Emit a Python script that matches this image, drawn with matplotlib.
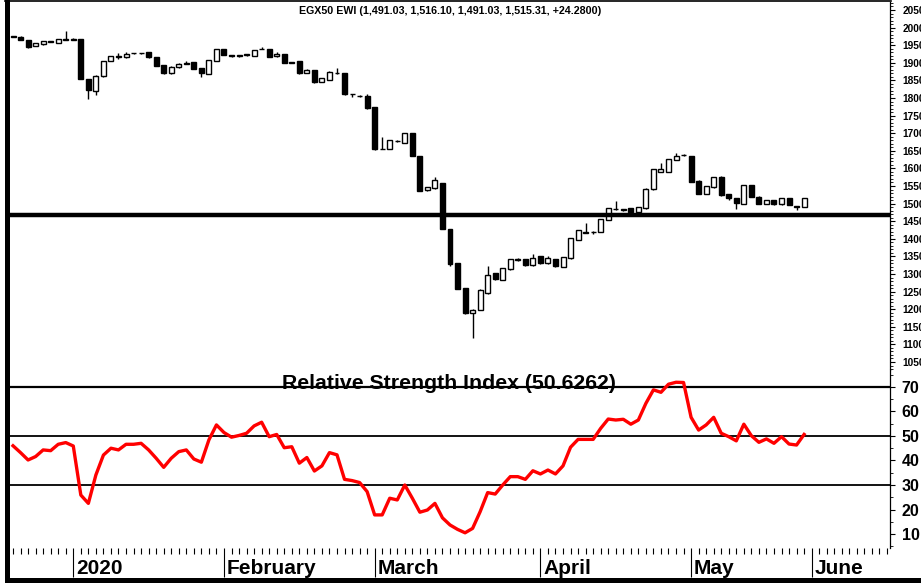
#!/usr/bin/env python3
import matplotlib
matplotlib.use("Agg")
import matplotlib.pyplot as plt
import matplotlib.transforms as mtransforms
from matplotlib.patches import Rectangle
from matplotlib.lines import Line2D
from matplotlib.ticker import MultipleLocator, FormatStrFormatter
import numpy as np

# daily candles, one per trading day (index 0 = mid Dec 2019)
opens = [1976, 1974, 1965, 1949, 1952, 1960, 1957, 1966, 1966, 1967,
	1854, 1821, 1862, 1905, 1917, 1916, 1927, 1928, 1930, 1916,
	1894, 1870, 1887, 1897, 1901, 1884, 1868, 1905, 1938, 1922,
	1918, 1921, 1920, 1939, 1938, 1918, 1925, 1900, 1904, 1872,
	1879, 1846, 1851, 1870, 1870, 1811, 1806, 1806, 1774, 1656,
	1655, 1678, 1673, 1700, 1635, 1539, 1543, 1558, 1427, 1330,
	1259, 1188, 1198, 1245, 1302, 1283, 1313, 1341, 1342, 1325,
	1351, 1330, 1343, 1321, 1345, 1397, 1418, 1418, 1420, 1453,
	1485, 1483, 1487, 1475, 1487, 1541, 1591, 1591, 1624, 1638,
	1635, 1565, 1527, 1546, 1575, 1527, 1515, 1499, 1553, 1520,
	1499, 1510, 1498, 1515, 1492, 1491.03]
highs = [1977, 1976, 1965, 1956, 1963, 1962, 1969, 1990, 1971, 1968,
	1855, 1864, 1906, 1920, 1927, 1930, 1929, 1929, 1931, 1917,
	1895, 1890, 1898, 1904, 1902, 1885, 1909, 1939, 1939, 1923,
	1922, 1926, 1937, 1944, 1939, 1930, 1926, 1903, 1905, 1882,
	1880, 1857, 1876, 1884, 1871, 1811, 1808, 1810, 1775, 1690,
	1682, 1681, 1701, 1701, 1636, 1548, 1576, 1559, 1427, 1331,
	1260, 1200, 1256, 1323, 1303, 1317, 1343, 1345, 1343, 1357,
	1352, 1350, 1344, 1348, 1402, 1426, 1444, 1421, 1456, 1488,
	1507, 1486, 1488, 1491, 1543, 1598, 1616, 1627, 1645, 1641,
	1636, 1566, 1551, 1576, 1578, 1528, 1516, 1554, 1554, 1521,
	1511, 1511, 1516, 1516, 1493, 1516.10]
lows = [1972, 1964, 1943, 1948, 1951, 1959, 1956, 1966, 1965, 1853,
	1796, 1808, 1861, 1904, 1912, 1915, 1926, 1926, 1915, 1891,
	1868, 1869, 1886, 1896, 1881, 1860, 1867, 1904, 1921, 1917,
	1916, 1920, 1919, 1938, 1916, 1917, 1898, 1899, 1869, 1871,
	1844, 1845, 1850, 1869, 1809, 1803, 1803, 1770, 1653, 1654,
	1654, 1676, 1672, 1634, 1536, 1536, 1542, 1427, 1322, 1256,
	1187, 1117, 1197, 1244, 1284, 1282, 1312, 1337, 1324, 1324,
	1329, 1329, 1320, 1320, 1344, 1396, 1416, 1414, 1419, 1452,
	1483, 1480, 1473, 1474, 1486, 1540, 1590, 1590, 1623, 1636,
	1561, 1526, 1526, 1545, 1523, 1510, 1484, 1498, 1518, 1498,
	1498, 1497, 1497, 1495, 1482, 1491.03]
closes = [1973, 1965, 1946, 1955, 1961, 1961, 1968, 1968, 1967, 1854,
	1823, 1863, 1905, 1919, 1918, 1926, 1928, 1927, 1916, 1892,
	1872, 1889, 1897, 1898, 1882, 1870, 1908, 1938, 1922, 1918,
	1921, 1925, 1936, 1940, 1917, 1924, 1899, 1901, 1870, 1879,
	1845, 1856, 1875, 1872, 1810, 1810, 1807, 1771, 1655, 1655,
	1681, 1679, 1700, 1635, 1537, 1547, 1567, 1428, 1328, 1257,
	1188, 1199, 1254, 1298, 1285, 1316, 1342, 1342, 1325, 1346,
	1330, 1345, 1323, 1347, 1401, 1425, 1417, 1419, 1455, 1487,
	1484, 1484, 1476, 1490, 1542, 1597, 1597, 1626, 1635, 1639,
	1562, 1527, 1550, 1575, 1524, 1515, 1501, 1553, 1519, 1499,
	1510, 1498, 1515, 1496, 1491.03, 1515.31]

rsi = [46.0, 43.2, 40.2, 41.6, 44.3, 44.0, 46.6, 47.3, 45.9, 25.9,
	22.5, 34.1, 42.2, 45.0, 44.3, 46.6, 46.6, 47.0, 44.3, 40.9,
	37.2, 40.9, 43.6, 44.3, 40.6, 39.3, 48.4, 54.5, 51.4, 49.5,
	50.2, 51.1, 54.1, 55.6, 49.7, 50.6, 45.2, 45.6, 38.9, 41.2,
	35.7, 37.8, 43.2, 42.3, 32.3, 31.8, 31.0, 27.3, 17.8, 17.8,
	24.6, 23.9, 30.0, 24.6, 18.9, 19.8, 22.5, 16.6, 13.7, 11.9,
	10.5, 12.3, 19.1, 26.9, 26.3, 30.0, 33.4, 33.4, 32.3, 35.8,
	34.5, 36.1, 34.5, 37.8, 45.4, 48.6, 48.6, 48.6, 53.1, 56.9,
	56.5, 56.8, 54.8, 56.5, 63.3, 68.8, 67.8, 71.1, 71.9, 71.8,
	57.6, 52.4, 54.5, 57.6, 51.1, 49.7, 48.0, 54.8, 50.1, 47.4,
	48.8, 47.0, 49.7, 46.7, 46.3, 50.6262]

month_labels = ["2020", "February", "March", "April", "May", "June"]
month_starts = [8, 28, 48, 70, 90, 106]

support_level = 1467
rsi_levels = [30, 50, 70]
title_text = "EGX50 EWI (1,491.03, 1,516.10, 1,491.03, 1,515.31, +24.2800)"
rsi_title = "Relative Strength Index (50.6262)"

W, H = 921, 583


def fx(px):
	return px / W


def fy(py):
	return 1 - py / H


def draw_candles(ax):
	x = np.arange(len(opens))
	o = np.array(opens, dtype=float)
	c = np.array(closes, dtype=float)
	up = c >= o
	lo = np.minimum(o, c)
	h = np.maximum(np.abs(c - o), 0.8)

	ax.vlines(x, lows, highs, color="black", lw=1, zorder=2)
	ax.bar(x[up], h[up], bottom=lo[up], width=0.66, color="white",
		edgecolor="black", lw=1, zorder=3)
	ax.bar(x[~up], h[~up], bottom=lo[~up], width=0.66, color="black",
		edgecolor="black", lw=1, zorder=3)
	ax.axhline(support_level, color="black", lw=3.2, zorder=4)


def style_right_axis(ax):
	for side in ["top", "left", "bottom"]:
		ax.spines[side].set_visible(False)
	ax.spines["right"].set_linewidth(0.9)
	ax.yaxis.tick_right()
	ax.yaxis.set_major_formatter(FormatStrFormatter("%d"))


def main():
	plt.rcParams["font.family"] = ["Liberation Sans", "DejaVu Sans"]
	plt.rcParams["font.weight"] = "bold"

	fig = plt.figure(figsize=(W / 100, H / 100), dpi=100)
	left, width = fx(10), fx(890) - fx(10)

	# price panel
	ax = fig.add_axes([left, fy(370), width, fy(2) - fy(370)])
	draw_candles(ax)
	ax.set_xlim(-0.4, 116.4)
	ax.set_ylim(1027.3, 2072.7)
	style_right_axis(ax)
	ax.yaxis.set_major_locator(MultipleLocator(50))
	ax.yaxis.set_minor_locator(MultipleLocator(10))
	ax.tick_params(axis="y", which="major", length=3.5, width=0.8, labelsize=7.3, pad=5.5)
	ax.tick_params(axis="y", which="minor", length=1.8, width=0.6)
	ax.set_xticks([])

	# RSI panel
	ax2 = fig.add_axes([left, fy(548), width, fy(370) - fy(548)])
	x = np.arange(len(rsi))
	for lvl in rsi_levels:
		ax2.axhline(lvl, color="black", lw=1.6 if lvl == 70 else 1.3, zorder=2)
	ax2.plot(x, rsi, color="#ff0000", lw=2.4, zorder=3)
	ax2.set_xlim(-0.4, 116.4)
	ax2.set_ylim(4.3, 76.9)
	style_right_axis(ax2)
	ax2.yaxis.set_minor_locator(MultipleLocator(5))
	ax2.set_yticks(range(10, 80, 10))
	ax2.tick_params(axis="y", which="major", length=3.5, width=0.8, labelsize=11.5, pad=5)
	ax2.tick_params(axis="y", which="minor", length=2, width=0.6)

	ax2.set_xticks(month_starts)
	ax2.set_xticklabels([])
	ax2.xaxis.set_minor_locator(MultipleLocator(1))
	ax2.tick_params(axis="x", which="major", length=21, width=0.8, direction="out")
	ax2.tick_params(axis="x", which="minor", length=4.6, width=0.8, direction="out")

	trans = mtransforms.blended_transform_factory(ax2.transData, fig.transFigure)
	for start, label in zip(month_starts, month_labels):
		ax2.text(start + 0.35, fy(574.5), label, transform=trans, ha="left",
			va="baseline", fontsize=15, clip_on=False)

	fig.text(fx(450), fy(10.5), title_text, ha="center", va="center", fontsize=7.7)
	fig.text(fx(449), fy(389), rsi_title, ha="center", va="baseline", fontsize=15.3)

	# frame pieces
	fig.add_artist(Rectangle((fx(5), 0), fx(5), 1, transform=fig.transFigure,
		color="black", lw=0))
	fig.add_artist(Rectangle((fx(5), fy(583)), 1, 5 / H, transform=fig.transFigure,
		color="black", lw=0))
	fig.add_artist(Line2D([fx(5), fx(891)], [fy(0.8), fy(0.8)], transform=fig.transFigure,
		color="black", lw=1.2))

	fig.savefig("out.png", dpi=100)
	plt.close(fig)


if __name__ == "__main__":
	main()
